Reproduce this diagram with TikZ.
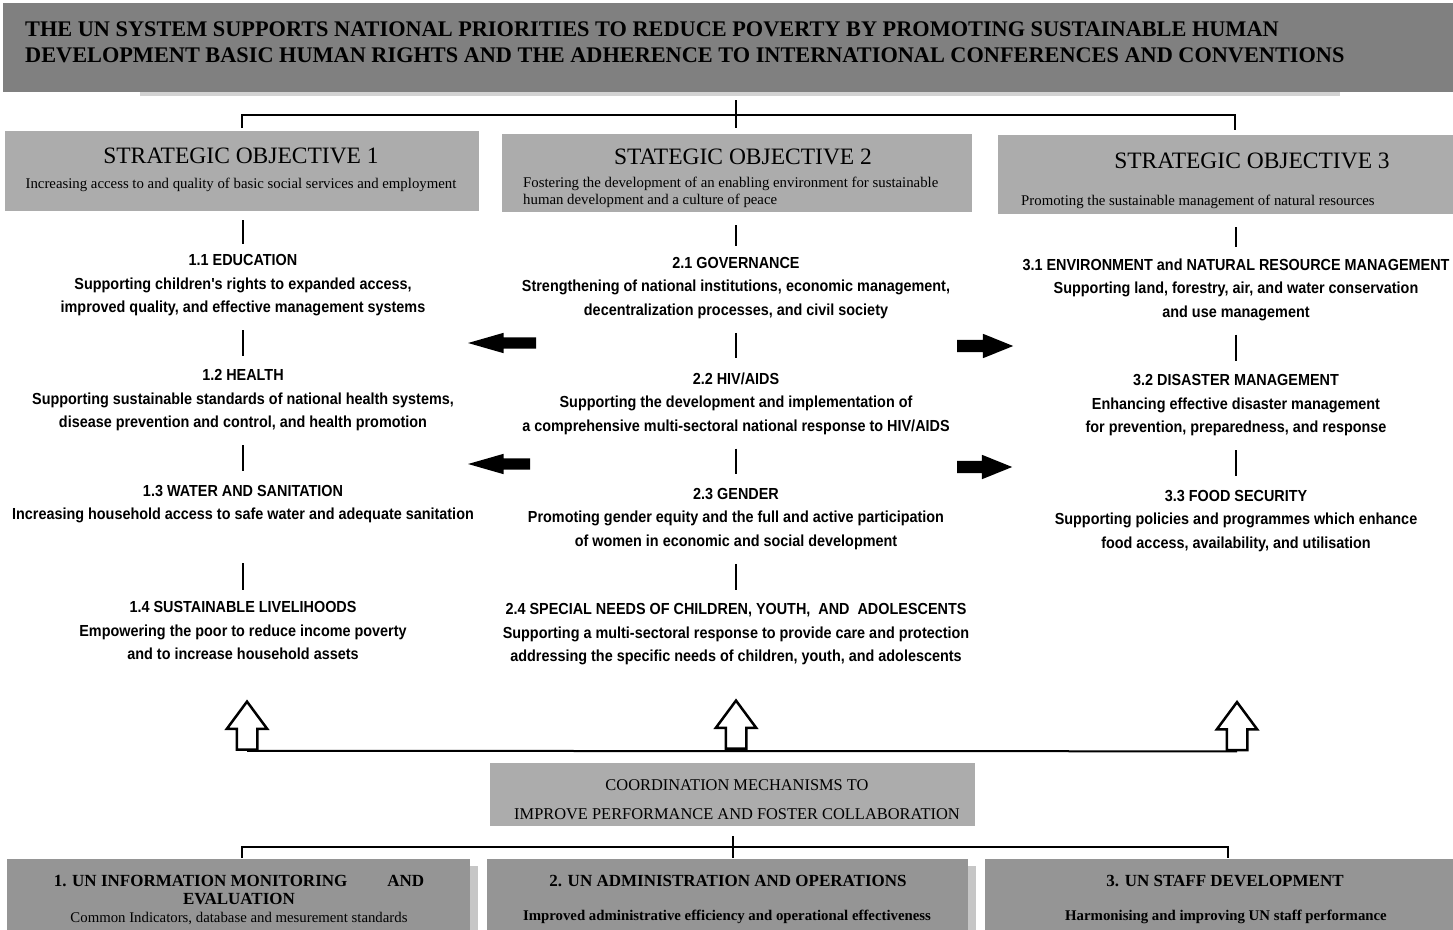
\documentclass[tikz,border=0pt]{standalone}
\usepackage{fontspec}
\setmainfont{Liberation Serif}
\newfontfamily\narrowsans[FakeStretch=0.90]{Liberation Sans}
\usetikzlibrary{shapes.arrows,shadows}
\definecolor{hdrgray}{RGB}{128,128,128}
\definecolor{sogray}{RGB}{172,172,172}
\definecolor{boxgray}{RGB}{149,149,149}

\begin{document}
\begin{tikzpicture}[x=1pt,y=-1pt,
    sobox/.style={fill=sogray, inner sep=0pt},
    sotitle/.style={font=\fontsize{23.5}{26}\selectfont, inner sep=0pt},
    sosub/.style={font=\fontsize{14.8}{17}\selectfont, inner sep=0pt, align=left},
    item/.style={font=\narrowsans\bfseries\fontsize{16}{23.5}\selectfont, align=center, inner sep=2pt},
    tree/.style={line width=1.4pt},
    link/.style={tree, shorten <=12pt, shorten >=12pt},
    harrow/.style={single arrow, fill=black, inner sep=5.5pt, single arrow head extend=4.5pt,
        single arrow head indent=0pt},
    uarrow/.style={single arrow, draw, fill=white, line width=2.5pt, inner sep=9pt,
        single arrow head extend=10pt, single arrow tip angle=73, minimum height=48pt,
        shape border rotate=90},
    bbox/.style={fill=boxgray, inner sep=0pt, minimum height=80pt,
        drop shadow={shadow xshift=8pt, shadow yshift=-7pt, fill=gray!45, opacity=1}},
    btitle/.style={font=\bfseries\fontsize{17}{18}\selectfont, align=center, inner sep=0pt},
    bsub/.style={font=\fontsize{14.8}{16}\selectfont, inner sep=0pt}]
    % \draw[help lines, gray] (0,0) grid[step=100] (1453,929);
    \useasboundingbox (0,0) rectangle (1453,929);

    % header
    \fill[gray!35] (140,92) rectangle (1340,96);
    \node[fill=hdrgray, minimum width=1450pt, minimum height=89pt, inner sep=0pt, anchor=north west] (hdr) at (3,3) {};
    \node[anchor=west, align=left, inner sep=0pt, font=\bfseries\fontsize{22.3}{26}\selectfont] (hdrtxt) at (25,42)
        {THE UN SYSTEM SUPPORTS NATIONAL PRIORITIES TO REDUCE POVERTY BY PROMOTING SUSTAINABLE HUMAN\\
         DEVELOPMENT BASIC HUMAN RIGHTS AND THE ADHERENCE TO INTERNATIONAL CONFERENCES AND CONVENTIONS};

    \coordinate (t0) at (736,100);
    \coordinate (t1) at (736,128);
    \coordinate (l1) at (242,128);
    \coordinate (l3) at (1235,130);
    \draw[tree] (t0) -- (t1);
    \draw[tree] (l1) |- (1235,115) -- (l3);

    % strategic objectives
    \node[sobox, minimum width=474pt, minimum height=80pt] (so1) at (242,171) {};
    \node[sobox, minimum width=470pt, minimum height=78pt] (so2) at (737,173) {};
    \node[sobox, minimum width=455pt, minimum height=79pt] (so3) at (1225.5,174.5) {};

    \node[sotitle] (so1t) at (241,156) {STRATEGIC OBJECTIVE 1};
    \node[sosub] (so1s) at (241,185) {Increasing access to and quality of basic social services and employment};
    \node[sotitle] (so2t) at (743,157) {STATEGIC OBJECTIVE 2};
    \node[sosub, anchor=west] (so2s) at (523,192.5) {Fostering the development of an enabling environment for sustainable\\human development and a culture of peace};
    \node[sotitle] (so3t) at (1252,161) {STRATEGIC OBJECTIVE 3};
    \node[sosub, anchor=west] (so3s) at (1021,202) {Promoting the sustainable management of natural resources};

    % column 1
    \node[item] (e11) at (243,285.5) {1.1 EDUCATION\\Supporting children's rights to expanded access,\\improved quality, and effective management systems};
    \node[item] (e12) at (243,400.5) {1.2 HEALTH\\Supporting sustainable standards of national health systems,\\disease prevention and control, and health promotion};
    \node[item] (e13) at (243,504) {1.3 WATER AND SANITATION\\Increasing household access to safe water and adequate sanitation};
    \node[item] (e14) at (243,630.5) {1.4 SUSTAINABLE LIVELIHOODS\\Empowering the poor to reduce income poverty\\and to increase household assets};

    % column 2
    \node[item] (e21) at (736,288) {2.1 GOVERNANCE\\Strengthening of national institutions, economic management,\\decentralization processes, and civil society};
    \node[item] (e22) at (736,403.5) {2.2 HIV/AIDS\\Supporting the development and implementation of\\a comprehensive multi-sectoral national response to HIV/AIDS};
    \node[item] (e23) at (736,519) {2.3 GENDER\\Promoting gender equity and the full and active participation\\of women in economic and social development};
    \node[item] (e24) at (736,634.5) {2.4 SPECIAL NEEDS OF CHILDREN, YOUTH, \ AND \ ADOLESCENTS\\Supporting a multi-sectoral response to provide care and protection\\addressing the specific needs of children, youth, and adolescents};

    % column 3
    \node[item] (e31) at (1236,289.5) {3.1 ENVIRONMENT and NATURAL RESOURCE MANAGEMENT\\Supporting land, forestry, air, and water conservation\\and use management};
    \node[item] (e32) at (1236,405.5) {3.2 DISASTER MANAGEMENT\\Enhancing effective disaster management\\for prevention, preparedness, and response};
    \node[item] (e33) at (1236,521) {3.3 FOOD SECURITY\\Supporting policies and programmes which enhance\\food access, availability, and utilisation};

    \draw[tree, shorten <=9pt, shorten >=9pt] (so1.south -| e11.north) -- (e11.north);
    \draw[tree, shorten <=13pt, shorten >=9pt] (so2.south -| e21.north) -- (e21.north);
    \draw[tree, shorten <=13pt, shorten >=9pt] (so3.south -| e31.north) -- (e31.north);
    \draw[link] (e11) -- (e12);
    \draw[link] (e12) -- (e13);
    \draw[tree, shorten <=38pt, shorten >=9pt] (e13.south) -- (e14.north);
    \draw[link] (e21) -- (e22);
    \draw[link] (e22) -- (e23);
    \draw[link] (e23) -- (e24);
    \draw[link] (e31) -- (e32);
    \draw[link] (e32) -- (e33);

    % side arrows
    \node[harrow, minimum height=68pt, single arrow tip angle=32, shape border rotate=180] (la1) at (512,343) {};
    \node[harrow, minimum height=62pt, single arrow tip angle=32, shape border rotate=180] (la2) at (509,464) {};
    \node[harrow, minimum height=56pt, single arrow tip angle=44, single arrow head extend=6pt, inner sep=6pt] (ra1) at (977.5,346) {};
    \node[harrow, minimum height=55pt, single arrow tip angle=44, single arrow head extend=6pt, inner sep=6pt] (ra2) at (977,467) {};

    % up arrows
    \node[uarrow] (ua1) at (247,732.5) {};
    \node[uarrow] (ua2) at (736,731.5) {};
    \node[uarrow] (ua3) at (1237,733) {};
    \draw[line width=2pt] (ua1.tail) -- (ua3.tail);

    % coordination
    \node[sobox, minimum width=485pt, minimum height=63pt] (coord) at (732.5,794.5) {};
    \node[align=center, inner sep=0pt, font=\fontsize{16.4}{29}\selectfont] (cotxt) at (737,800)
        {COORDINATION MECHANISMS TO\\IMPROVE PERFORMANCE AND FOSTER COLLABORATION};

    \coordinate (b0) at (733,836);
    \coordinate (b1) at (733,858);
    \coordinate (m1) at (242,858);
    \coordinate (m3) at (1228,858);
    \draw[tree] (b0) -- (b1);
    \draw[tree] (m1) |- (1228,847) -- (m3);

    % bottom boxes
    \node[bbox, minimum width=463pt] (bb1) at (238.5,899) {};
    \node[bbox, minimum width=481pt] (bb2) at (727.5,899) {};
    \node[bbox, minimum width=475pt] (bb3) at (1222.5,899) {};

    \node[btitle] (bt1) at (239,890) {1. UN INFORMATION MONITORING\hspace{40pt}AND\\EVALUATION};
    \node[bsub] (bs1) at (239,918) {Common Indicators, database and mesurement standards};
    \node[btitle] (bt2) at (728,881) {2. UN ADMINISTRATION AND OPERATIONS};
    \node[bsub, font=\bfseries\fontsize{14.8}{16}\selectfont] (bs2) at (727,917) {Improved administrative efficiency and operational effectiveness};
    \node[btitle] (bt3) at (1225,881) {3. UN STAFF DEVELOPMENT};
    \node[bsub, font=\bfseries\fontsize{14.8}{16}\selectfont] (bs3) at (1226,917) {Harmonising and improving UN staff performance};
\end{tikzpicture}
\end{document}
